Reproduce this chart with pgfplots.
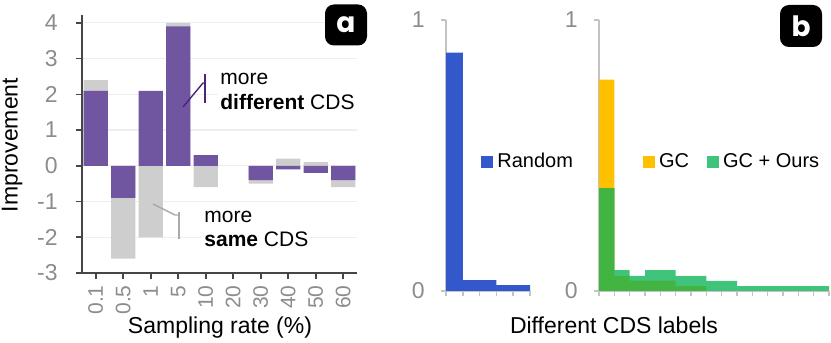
\documentclass[border=0pt]{standalone}
\usepackage{pgfplots}
\pgfplotsset{compat=1.18}
\usepackage{fontspec}
\setmainfont{Liberation Sans}
\newfontfamily\badgefont{Poppins}

\definecolor{purpleBar}{RGB}{112,86,160}
\definecolor{grayBar}{RGB}{206,206,206}
\definecolor{randBlue}{RGB}{51,88,204}
\definecolor{gcYellow}{RGB}{255,192,0}
\definecolor{oursMint}{RGB}{64,196,124}
\definecolor{overlapGreen}{RGB}{66,180,66}
\definecolor{axisDark}{RGB}{70,70,70}
\definecolor{axisLight}{RGB}{195,195,195}
\definecolor{gridGray}{RGB}{238,238,238}
\definecolor{tickGray}{RGB}{140,140,140}
\definecolor{notePurple}{RGB}{75,35,120}
\definecolor{noteGray}{RGB}{170,170,170}

\pgfplotsset{
  /pgf/number format/assume math mode=true,
  histo/.style={
    anchor=south west, scale only axis, width=42pt, height=135.5pt,
    ymin=0, ymax=1, axis lines*=left,
    axis line style={draw=axisLight, line width=0.8pt},
    ytick={0,1}, xticklabels={},
    tick align=outside, major tick length=2.5pt,
    tick style={draw=axisLight, line width=0.8pt},
    yticklabel style={anchor=east, inner sep=0pt, text=tickGray, font=\fontsize{11.5}{12}\selectfont},
    yticklabel shift=8pt,
    legend style={draw=none, fill=none, inner sep=0pt, font=\fontsize{10}{12}\selectfont,
      anchor=west, /tikz/every even column/.append style={column sep=7pt}},
    legend image code/.code={\fill[#1] (0pt,-3pt) rectangle (6pt,3pt);},
  },
}

\begin{document}
\begin{tikzpicture}
\useasboundingbox (0,0) rectangle (415.5pt,171.5pt);

% panel a
\begin{axis}[
  at={(41pt,35pt)}, anchor=south west, scale only axis,
  width=137.5pt, height=129pt,
  xmin=-0.5, xmax=9.5, ymin=-3, ymax=4.22,
  axis lines*=left, axis line style={draw=axisDark, line width=0.8pt},
  xtick={0,...,9}, xticklabels={0.1,0.5,1,5,10,20,30,40,50,60},
  ytick={-3,...,4},
  tick align=outside, major tick length=3pt,
  tick style={draw=axisDark, line width=0.8pt},
  ymajorgrids, grid style={draw=gridGray, line width=0.6pt},
  xticklabel style={rotate=90, anchor=east, inner sep=0pt, text=tickGray, font=\fontsize{10.5}{11}\selectfont},
  yticklabel style={anchor=east, inner sep=0pt, text=tickGray, font=\fontsize{11.5}{12}\selectfont},
  xticklabel shift=3pt, yticklabel shift=9pt,
]
\addplot[ybar, bar shift=0pt, bar width=0.89, fill=grayBar, draw=none] coordinates {
  (0,2.4) (1,-2.6) (2,-2.0) (3,4.0) (4,-0.6) (6,-0.5) (7,0.2) (8,0.1) (9,-0.6)};
\addplot[ybar, bar shift=0pt, bar width=0.89, fill=purpleBar, draw=none] coordinates {
  (0,2.1) (1,-0.9) (2,2.1) (3,3.9) (4,0.3) (6,-0.4) (7,-0.1) (8,-0.2) (9,-0.4)};
\end{axis}

% annotations of panel a
\node[anchor=base west, fill=white, inner sep=1pt, font=\fontsize{10.5}{12}\selectfont] at (109pt,129pt) {more};
\node[anchor=base west, fill=white, inner sep=1pt, font=\fontsize{10.5}{12}\selectfont] at (109pt,116.5pt) {\textbf{different} CDS};
\draw[notePurple, line width=0.7pt] (91.5pt,118pt) -- (101.5pt,130pt) -- (102.5pt,130pt);
\draw[notePurple, line width=0.7pt] (102.5pt,134.5pt) -- (102.5pt,120pt);
\node[anchor=base west, fill=white, inner sep=1pt, font=\fontsize{10.5}{12}\selectfont] at (101pt,60pt) {more};
\node[anchor=base west, fill=white, inner sep=1pt, font=\fontsize{10.5}{12}\selectfont] at (101pt,48pt) {\textbf{same} CDS};
\draw[noteGray, line width=0.7pt] (76.5pt,69.5pt) -- (87.5pt,64pt) -- (89.5pt,64pt);
\draw[noteGray, line width=0.7pt] (89.5pt,65.5pt) -- (89.5pt,52pt);

\node[rotate=90, font=\fontsize{11.5}{12}\selectfont] at (6pt,99pt) {Improvement};
\node[anchor=base, font=\fontsize{11.5}{12}\selectfont] at (110pt,5pt) {Sampling rate (\%)};

% panel b, random sampling
\begin{axis}[histo, at={(223pt,26pt)}, width=42pt, xmin=0, xmax=5, xtick={0,...,5},
  legend style={at={(axis description cs:0.417,0.476)}}]
\addplot[const plot, fill=randBlue, draw=none] coordinates {
  (0,0.88) (1,0.04) (3,0.022) (5,0.022)} \closedcycle;
\addlegendentry{Random}
\end{axis}

% panel b, GC and GC + Ours
\begin{axis}[histo, at={(299.5pt,26pt)}, width=115pt, xmin=0, xmax=15, xtick={0,...,15},
  legend columns=2, legend style={at={(axis description cs:0.19,0.476)}}]
\addplot[const plot, fill=gcYellow, draw=none] coordinates {
  (0,0.78) (1,0.056) (2,0.038) (5,0.018) (7,0) (15,0)} \closedcycle;
\addlegendentry{GC}
\addplot[const plot, fill=oursMint, draw=none] coordinates {
  (0,0.38) (1,0.077) (2,0.056) (3,0.077) (5,0.056) (7,0.037) (9,0.018) (15,0.018)} \closedcycle;
\addlegendentry{GC + Ours}
% where the two histograms overlap
\addplot[const plot, fill=overlapGreen, draw=none, forget plot] coordinates {
  (0,0.38) (1,0.056) (2,0.038) (5,0.018) (7,0) (15,0)} \closedcycle;
\end{axis}

\node[anchor=base, font=\fontsize{11.5}{12}\selectfont] at (307pt,4.5pt) {Different CDS labels};

% panel badges
\node[fill=black, rounded corners=4.5pt, minimum width=21pt, minimum height=20.5pt, inner sep=0pt,
  text=white, font=\badgefont\bfseries\fontsize{14}{14}\selectfont] at (173pt,159pt) {a};
\node[fill=black, rounded corners=4.5pt, minimum width=21pt, minimum height=21pt, inner sep=0pt,
  text=white, font=\badgefont\bfseries\fontsize{14}{14}\selectfont] at (400.5pt,158.5pt) {b};
\end{tikzpicture}
\end{document}
